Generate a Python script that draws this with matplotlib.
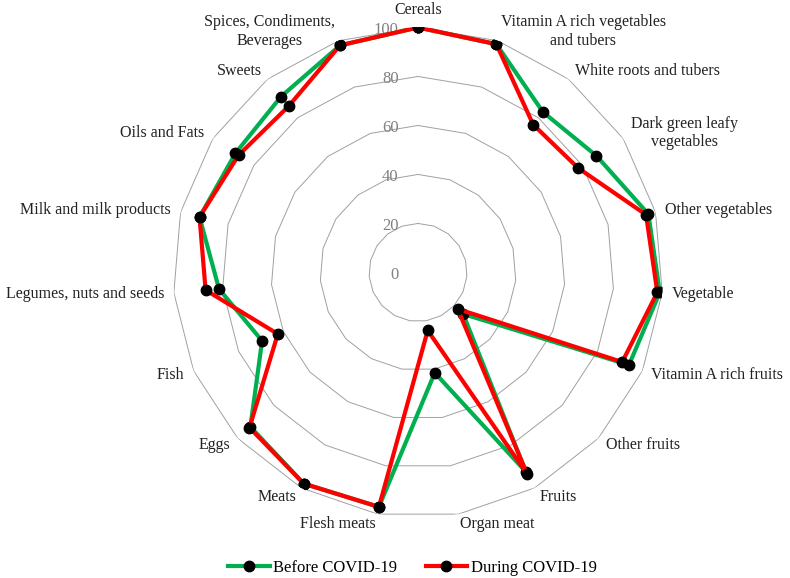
import numpy as np
import matplotlib
matplotlib.use('Agg')
import matplotlib.pyplot as plt

plt.rcParams['font.family'] = ['Liberation Serif', 'DejaVu Serif']

categories = ['Cereals', 'Vitamin A rich vegetables\nand tubers', 'White roots and tubers',
              'Dark green leafy\nvegetables', 'Other vegetables', 'Vegetable',
              'Vitamin A rich fruits', 'Other fruits', 'Fruits', 'Organ meat', 'Flesh meats',
              'Meats', 'Eggs', 'Fish', 'Legumes, nuts and seeds', 'Milk and milk products',
              'Oils and Fats', 'Sweets', 'Spices, Condiments,\nBeverages']
before = [100, 98.5, 83, 87, 97, 99, 94, 25, 92.5, 41.5, 97, 98, 93, 69.5, 81.5, 92, 89, 91, 98]
during = [100, 98.5, 76.5, 78, 96, 98, 91, 22, 93.5, 24, 97, 98, 93.5, 62.5, 87, 92, 87.5, 86, 98]
ring_values = [0, 20, 40, 60, 80, 100]

n = len(categories)
angles = np.linspace(0, 2 * np.pi, n, endpoint=False)
closed = np.append(angles, angles[0])

fig = plt.figure(figsize=(7.9, 5.78), dpi=100)
ax = fig.add_axes([0.219, 0.1047, 0.6203, 0.8478], projection='polar')
ax.set_theta_zero_location('N')
ax.set_theta_direction(-1)
ax.set_ylim(0, 100)
ax.set_axis_off()

# polygon grid rings (no spokes)
for r in ring_values[1:]:
    ax.plot(closed, [r] * (n + 1), color='#a0a0a0', lw=0.7, zorder=1)

# ring labels
for r in ring_values:
    ax.annotate(str(r), xy=(0, r), xytext=(-14, -2), textcoords='offset points',
                ha='right', va='center', fontsize=12, color='#808080')

ax.plot(closed, np.append(before, before[0]), color='#00B050', lw=3, marker='o',
        markersize=7.5, markerfacecolor='black', markeredgecolor='black',
        label='Before COVID-19', zorder=3)
ax.plot(closed, np.append(during, during[0]), color='#FF0000', lw=3, marker='o',
        markersize=7.5, markerfacecolor='black', markeredgecolor='black',
        label='During COVID-19', zorder=4)

# category labels
for ang, lab in zip(angles, categories):
    s, c = np.sin(ang), np.cos(ang)
    if abs(s) < 0.1:
        ha = 'center'
        va = 'bottom' if c > 0 else 'top'
    else:
        ha = 'left' if s > 0 else 'right'
        va = 'center'
    ax.text(ang, 104, lab, ha=ha, va=va, fontsize=11.5, multialignment='center',
            color='#222222')

fig.legend(loc='lower center', bbox_to_anchor=(0.522, -0.022), ncol=2, frameon=False,
           fontsize=12, handlelength=2.5, columnspacing=1.7, handletextpad=0.2)

plt.savefig('out.png', dpi=100)
